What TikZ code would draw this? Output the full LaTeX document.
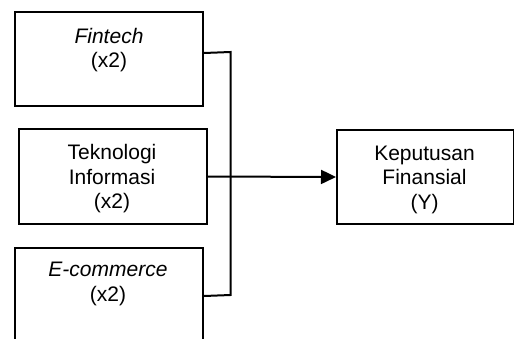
\documentclass[tikz,border=0pt]{standalone}
\usepackage{fontspec}
\setmainfont{Liberation Sans}
\usetikzlibrary{arrows.meta}
\begin{document}
\begin{tikzpicture}[x=1pt,y=-1pt,
  box/.style={draw=black,line width=2pt,inner sep=0pt,anchor=north west},
  lbl/.style={align=center,inner sep=0pt,font=\fontsize{21}{24.5}\selectfont},
  conn/.style={line width=2pt,draw=black}]
\useasboundingbox (0,0) rectangle (514,338);
\clip (0,0) rectangle (514,338);
\node[box,minimum width=188pt,minimum height=94pt] (f) at (14,11) {};
\node[box,minimum width=188pt,minimum height=95pt] (t) at (18,128) {};
\node[box,minimum width=188pt,minimum height=96pt] (e) at (14,247) {};
\node[box,minimum width=177pt,minimum height=94pt] (y) at (336,129) {};
\node[lbl] (ft) at (109,50) {\textit{Fintech}\\(x2)};
\node[lbl] (tt) at (112,179) {Teknologi\\Informasi\\(x2)};
\node[lbl] (et) at (108,284) {\textit{E-commerce}\\(x2)};
\node[lbl] (yt) at (424.5,179.5) {Keputusan\\Finansial\\(Y)};
\coordinate (j1) at (230.5,52);
\coordinate (j2) at (230.5,295);
\draw[conn] ([yshift=6pt]f.east) -- (j1) -- (j2) -- (e.east);
\draw[conn,-{Triangle[length=15pt,width=14pt]}] (t.east) -- (y.west);
\end{tikzpicture}
\end{document}
